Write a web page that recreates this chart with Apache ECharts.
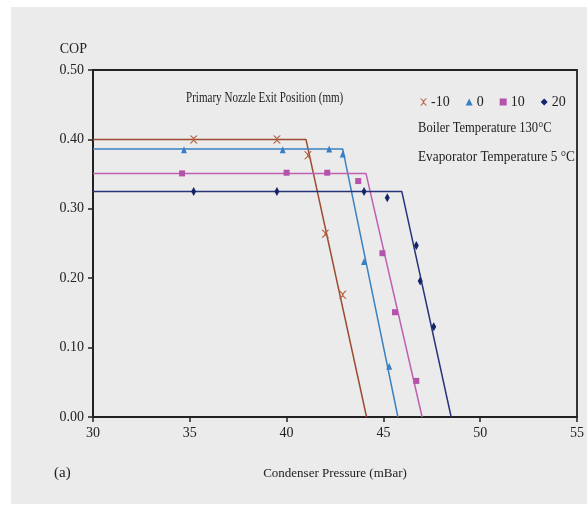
<!DOCTYPE html>
<html>
<head>
<meta charset="utf-8">
<script src="https://cdn.jsdelivr.net/npm/echarts@6/dist/echarts.min.js"></script>
<style>
html,body{margin:0;padding:0;background:#fff;}
#chart{width:587px;height:508px;}
</style>
</head>
<body>
<div id="chart"></div>
<script>
// Fitted lines (x: condenser pressure mBar, y: COP)
var lineM10 = [[30, 0.400], [41.0, 0.400], [44.13, 0]];
var line0   = [[30, 0.386], [42.9, 0.386], [45.75, 0]];
var line10  = [[30, 0.351], [44.1, 0.351], [47.0, 0]];
var line20  = [[30, 0.325], [45.95, 0.325], [48.5, 0]];

// Measured points
var ptsM10 = [[35.2, 0.400], [39.5, 0.400], [41.1, 0.377], [42.0, 0.264], [42.9, 0.176]];
var pts0   = [[34.7, 0.385], [39.8, 0.385], [42.2, 0.386], [42.9, 0.379], [44.0, 0.224], [45.3, 0.073]];
var pts10  = [[34.6, 0.351], [40.0, 0.352], [42.1, 0.352], [43.7, 0.340], [44.95, 0.236], [45.6, 0.151], [46.7, 0.052]];
var pts20  = [[35.2, 0.325], [39.5, 0.325], [44.0, 0.325], [45.2, 0.316], [46.7, 0.247], [46.9, 0.196], [47.6, 0.130]];

var seriesNames = ['-10', '0', '10', '20'];
var xTicks = [30, 35, 40, 45, 50, 55];
var yTicks = [0.0, 0.1, 0.2, 0.3, 0.4, 0.5];

var lineColors = ['#9c4b30', '#3a82c2', '#bf5fb4', '#263479'];
var markColors = ['#b5603f', '#3a7fc4', '#b552ac', '#15256a'];
var crossPath = 'path://M0,0 L2,0 L5,3 L8,0 L10,0 L6,4 L6,6 L10,10 L8,10 L5,7 L2,10 L0,10 L4,6 L4,4 Z';
var symbols = [crossPath, 'triangle', 'rect', 'diamond'];
var symbolSizes = [[8, 8], [6, 7], [6, 6], [5, 9]];

var font = 'Liberation Serif';
var chart = echarts.init(document.getElementById('chart'));

var lines = [lineM10, line0, line10, line20];
var pts = [ptsM10, pts0, pts10, pts20];
var series = [];
for (var i = 0; i < 4; i++) {
  series.push({
    name: seriesNames[i] + ' fit',
    type: 'line',
    data: lines[i],
    showSymbol: false,
    symbol: 'none',
    lineStyle: {color: lineColors[i], width: 1.5},
    z: 2,
    silent: true
  });
}
for (var j = 0; j < 4; j++) {
  series.push({
    name: seriesNames[j],
    type: 'scatter',
    data: pts[j],
    symbol: symbols[j],
    symbolSize: symbolSizes[j],
    itemStyle: {color: markColors[j], opacity: 1},
    z: 3
  });
}

chart.setOption({
  backgroundColor: '#ebebeb',
  animation: false,
  grid: {left: 93, right: 4, top: 70, bottom: 91, show: true, borderColor: '#222', borderWidth: 1.8, backgroundColor: 'transparent'},
  legend: {
    data: seriesNames.map(function (n, k) { return {name: n, icon: symbols[k]}; }),
    left: 415, top: 90,
    itemWidth: 7, itemHeight: 7, itemGap: 16,
    textStyle: {fontFamily: font, fontSize: 14, color: '#222', padding: [0, 0, 0, -1]},
    selectedMode: false
  },
  xAxis: {
    type: 'value', min: 30, max: 55, interval: 5,
    name: 'Condenser Pressure (mBar)', nameLocation: 'middle', nameGap: 50,
    nameTextStyle: {fontFamily: font, fontSize: 13, color: '#222'},
    axisLine: {show: true, lineStyle: {color: '#222', width: 2}},
    axisTick: {show: true, inside: false, length: 5, lineStyle: {color: '#222', width: 1.5}},
    axisLabel: {fontFamily: font, fontSize: 14, color: '#222', margin: 9,
      formatter: function (v) { return xTicks.indexOf(v) >= 0 ? String(v) : ''; }},
    splitLine: {show: false}
  },
  yAxis: {
    type: 'value', min: 0, max: 0.5, interval: 0.1,
    name: 'COP', nameLocation: 'end', nameGap: 14,
    nameTextStyle: {fontFamily: font, fontSize: 14, color: '#222', align: 'right', padding: [0, 6, 0, 0]},
    axisLine: {show: true, lineStyle: {color: '#222', width: 2}},
    axisTick: {show: true, inside: false, length: 5, lineStyle: {color: '#222', width: 1.5}},
    axisLabel: {fontFamily: font, fontSize: 14, color: '#222', margin: 9,
      formatter: function (v) { return v.toFixed(2); }},
    splitLine: {show: false}
  },
  graphic: [
    {type: 'rect', shape: {x: 0, y: 0, width: 587, height: 7}, style: {fill: '#ffffff'}, z: -10, silent: true},
    {type: 'rect', shape: {x: 0, y: 0, width: 11, height: 508}, style: {fill: '#ffffff'}, z: -10, silent: true},
    {type: 'rect', shape: {x: 0, y: 504, width: 587, height: 4}, style: {fill: '#ffffff'}, z: -10, silent: true},
    {type: 'text', x: 186, y: 91, scaleX: 0.79, style: {text: 'Primary Nozzle Exit Position (mm)', font: '14px "Liberation Serif"', fill: '#222'}},
    {type: 'text', x: 418, y: 121, scaleX: 0.9, style: {text: 'Boiler Temperature 130\u00b0C', font: '14px "Liberation Serif"', fill: '#222'}},
    {type: 'text', x: 418, y: 150, scaleX: 0.95, style: {text: 'Evaporator Temperature 5 \u00b0C', font: '14px "Liberation Serif"', fill: '#222'}},
    {type: 'text', x: 54, y: 466, style: {text: '(a)', font: '15px "Liberation Serif"', fill: '#222'}}
  ],
  series: series
});
</script>
</body>
</html>
